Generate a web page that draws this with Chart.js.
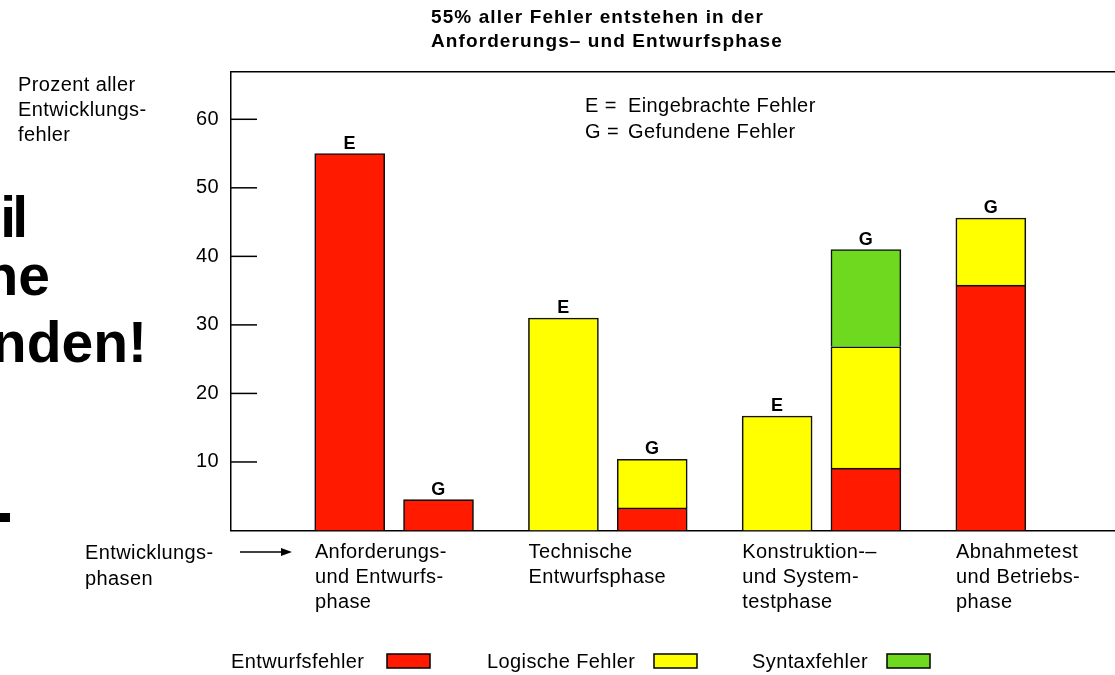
<!DOCTYPE html>
<html>
<head>
<meta charset="utf-8">
<script src="https://cdn.jsdelivr.net/npm/chart.js@4.4.0/dist/chart.umd.min.js"></script>
<style>
  body { margin: 0; background: #fff; font-family: "Liberation Sans", Arial, sans-serif; }
  #wrap { position: relative; width: 1115px; height: 675px; overflow: hidden; background: #fff; }
  canvas { position: absolute; left: 0; top: 0; }
  .t { position: absolute; color: #000; font-size: 20px; line-height: 25px; white-space: nowrap; letter-spacing: 0.4px; }
  .title { position: absolute; left: 431px; top: 5px; font-weight: bold; font-size: 19px; line-height: 24px; letter-spacing: 1.1px; white-space: nowrap; }
  .cut { position: absolute; left: 0; height: 60px; }
  .cut span { position: absolute; right: 0; top: 0; font-weight: bold; font-size: 57px; line-height: 57px; white-space: nowrap; }
</style>
</head>
<body>
<div id="wrap">
  <canvas id="chart" width="1115" height="675"></canvas>

  <div class="title">55% aller Fehler entstehen in der<br>Anforderungs– und Entwurfsphase</div>

  <div class="t" style="left:18px; top:72px;">Prozent aller<br>Entwicklungs-<br>fehler</div>
  <div class="t" style="left:585px; top:92px; line-height:26px;">E =<br>G =</div>
  <div class="t" style="left:628px; top:92px; line-height:26px;">Eingebrachte Fehler<br>Gefundene Fehler</div>
  <div class="t" style="left:85px; top:539px; line-height:26px;">Entwicklungs-<br>phasen</div>

  <!-- Reste des Folientextes links, vom Diagramm ueberdeckt -->
  <div class="cut" style="top:189px; width:24px;"><span style="letter-spacing:-4px;">il</span></div>
  <div class="cut" style="top:247px; width:50px;"><span>ne</span></div>
  <div class="cut" style="top:314px; width:147px;"><span>nden!</span></div>
  <div style="position:absolute; left:0; top:513px; width:10px; height:9px; background:#000;"></div>
</div>

<script>
// Phasen (x-Achse), je Phase ein oder zwei Saeulen
const phases = [
  ["Anforderungs-", "und Entwurfs-", "phase"],
  ["Technische", "Entwurfsphase"],
  ["Konstruktion-–", "und System-", "testphase"],
  ["Abnahmetest", "und Betriebs-", "phase"]
];
const barPhase = [0, 0, 1, 1, 2, 2, 3];
const barKind = ["E", "G", "E", "G", "E", "G", "G"];

// Prozent aller Entwicklungsfehler je Saeule
const seriesNames = ["Entwurfsfehler", "Logische Fehler", "Syntaxfehler"];
const entwurfsfehler = [55, 4.5, null, 3.3, null, 9.1, 35.8];
const logischeFehler = [null, null, 31, 7.1, 16.7, 17.7, 9.8];
const syntaxfehler = [null, null, null, null, null, 14.2, null];

const yTicks = [10, 20, 30, 40, 50, 60];

const colors = ["#ff1a00", "#ffff00", "#6ed91f"];
const FONT = '"Liberation Sans", Arial, sans-serif';

// zweite Saeule einer Phase sitzt rechts neben der ersten
const pairGap = 0.4155;
const barX = barPhase.map((p, i) => p + (i > 0 && barPhase[i - 1] === p ? pairGap : 0));
const labelShift = -0.163;

function makeDataset(label, values, color) {
  return {
    label: label,
    data: values.map((v, i) => ({ x: barX[i], y: v })),
    backgroundColor: color,
    borderColor: "#111",
    borderWidth: 1.6,
    borderSkipped: "start",
    barThickness: 70
  };
}

const legendTextX = [231, 487, 752];
const legendBoxX = [387, 654, 887];

const extras = {
  id: "extras",
  beforeDraw(chart) {
    chart.ctx.letterSpacing = "0.4px";
  },
  afterDraw(chart) {
    const { ctx, chartArea } = chart;
    const xs = chart.scales.x;
    const ys = chart.scales.y;
    ctx.save();
    ctx.strokeStyle = "#000";
    ctx.fillStyle = "#000";
    ctx.lineWidth = 1.5;

    // Teilstriche nach innen
    ys.ticks.forEach(t => {
      const py = ys.getPixelForValue(t.value);
      ctx.beginPath();
      ctx.moveTo(chartArea.left, py);
      ctx.lineTo(chartArea.left + 26, py);
      ctx.stroke();
    });

    // E / G ueber den Saeulen
    ctx.font = "bold 18px " + FONT;
    ctx.textAlign = "center";
    ctx.textBaseline = "alphabetic";
    barKind.forEach((k, i) => {
      let total = 0;
      chart.data.datasets.forEach(ds => { total += ds.data[i].y || 0; });
      ctx.fillText(k, xs.getPixelForValue(barX[i]), ys.getPixelForValue(total) - 5);
    });

    // Pfeil bei "Entwicklungsphasen"
    ctx.beginPath();
    ctx.moveTo(240, 552);
    ctx.lineTo(284, 552);
    ctx.stroke();
    ctx.beginPath();
    ctx.moveTo(292, 552);
    ctx.lineTo(281, 548);
    ctx.lineTo(281, 556);
    ctx.closePath();
    ctx.fill();

    // Legende: Text, dann Kaestchen
    ctx.font = "20px " + FONT;
    ctx.textAlign = "left";
    ctx.textBaseline = "middle";
    chart.data.datasets.forEach((ds, i) => {
      ctx.fillStyle = "#000";
      ctx.fillText(ds.label, legendTextX[i], 662);
      ctx.fillStyle = ds.backgroundColor;
      ctx.fillRect(legendBoxX[i], 654, 43, 14);
      ctx.strokeRect(legendBoxX[i], 654, 43, 14);
    });
    ctx.restore();
  }
};

new Chart(document.getElementById("chart"), {
  type: "bar",
  data: {
    datasets: [
      makeDataset(seriesNames[0], entwurfsfehler, colors[0]),
      makeDataset(seriesNames[1], logischeFehler, colors[1]),
      makeDataset(seriesNames[2], syntaxfehler, colors[2])
    ]
  },
  options: {
    responsive: false,
    animation: false,
    layout: { padding: { left: 0, right: 0, top: 72, bottom: 44.5 } },
    plugins: {
      legend: { display: false },
      tooltip: { enabled: false },
      title: { display: false }
    },
    scales: {
      x: {
        type: "linear",
        stacked: true,
        offset: false,
        min: -0.5555,
        max: 3.581,
        grid: { display: false, drawTicks: false },
        border: { display: true, color: "#000", width: 1.5 },
        afterBuildTicks: scale => {
          scale.ticks = phases.map((p, i) => ({ value: i + labelShift }));
        },
        afterFit: scale => { scale.height = 100; },
        ticks: {
          autoSkip: false,
          maxRotation: 0,
          align: "start",
          padding: 9,
          color: "#000",
          font: { family: FONT, size: 20, lineHeight: 25 / 20 },
          callback: (v, i) => phases[i]
        }
      },
      xTop: {
        type: "linear",
        position: "top",
        min: 0,
        max: 1,
        grid: { display: false, drawTicks: false },
        border: { display: true, color: "#000", width: 1.5 },
        ticks: { display: false },
        afterFit: scale => { scale.height = 0; }
      },
      y: {
        stacked: true,
        min: 0,
        max: 66.9,
        grid: { display: false, drawTicks: false },
        border: { display: true, color: "#000", width: 1.5 },
        afterBuildTicks: scale => {
          scale.ticks = yTicks.map(v => ({ value: v }));
        },
        afterFit: scale => { scale.width = 231; },
        ticks: {
          padding: 12,
          color: "#000",
          font: { family: FONT, size: 20 }
        }
      }
    }
  },
  plugins: [extras]
});
</script>
</body>
</html>
